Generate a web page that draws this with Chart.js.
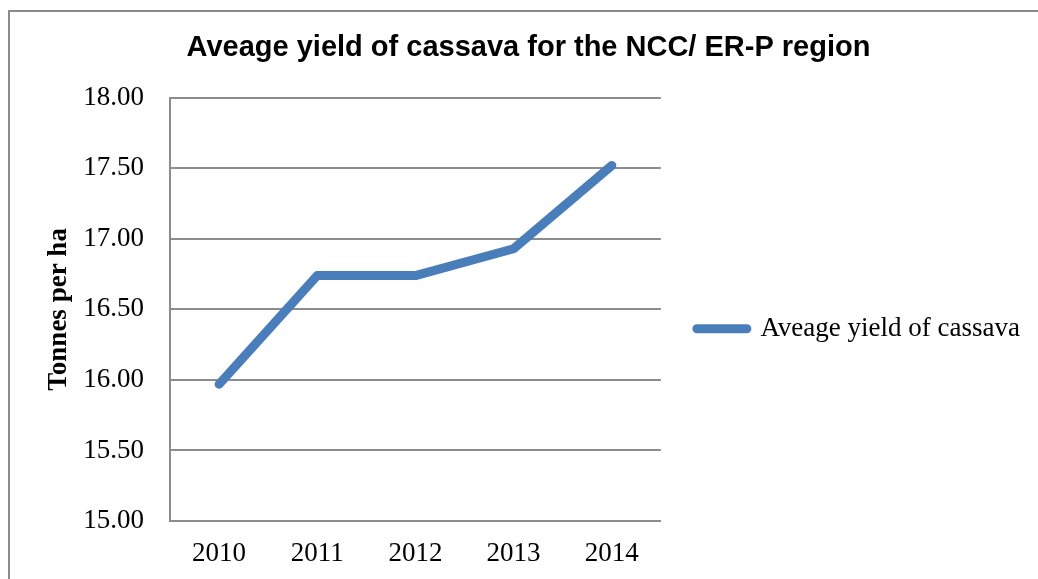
<!DOCTYPE html>
<html>
<head>
<meta charset="utf-8">
<script src="https://cdn.jsdelivr.net/npm/chart.js@4/dist/chart.umd.min.js"></script>
<style>
html, body { margin: 0; padding: 0; background: #fff; overflow: hidden; }
#frame { position: absolute; left: 8px; top: 10px; width: 1100px; height: 700px; border: 2px solid #8a8a8a; }
#line_chart { position: absolute; left: 0; top: 0; }
</style>
</head>
<body>
<div id="frame"></div>
<canvas id="line_chart" width="1038" height="579"></canvas>
<script>
// values
var years = ["2010", "2011", "2012", "2013", "2014"];
var yieldValues = [15.97, 16.74, 16.74, 16.93, 17.52];
var yTicks = [15.0, 15.5, 16.0, 16.5, 17.0, 17.5, 18.0];

var serif = "'Liberation Serif', 'Times New Roman', serif";
var gridGray = '#8c8c8c';
var lineBlue = '#4a7ebb';

var lineData = {
    labels: years,
    datasets: [
        {
            label: "Aveage yield of cassava",
            data: yieldValues,
            borderColor: lineBlue,
            backgroundColor: lineBlue,
            borderWidth: 9,
            borderCapStyle: 'round',
            borderJoinStyle: 'round',
            pointRadius: 0,
            pointStyle: 'line',
            fill: false,
            tension: 0
        }
    ]
};

var lineOptions = {
    responsive: false,
    animation: false,
    // uneven left/right padding puts the title centre where it is in the picture
    layout: { padding: { left: 27, right: 8, top: 0, bottom: 0 } },
    plugins: {
        title: {
            display: true,
            text: "Aveage yield of cassava for the NCC/ ER-P region",
            color: '#000',
            font: { family: "'Liberation Sans', Arial, sans-serif", size: 29, weight: 'bold' },
            padding: { top: 31, bottom: 32 }
        },
        legend: {
            position: 'right',
            maxWidth: 600,
            // empty title only pushes the entry down to where it sits in the picture
            title: { display: true, text: ' ', font: { size: 12 }, padding: 32 },
            labels: {
                usePointStyle: true,
                pointStyleWidth: 50,
                color: '#000',
                padding: 36,
                font: { family: serif, size: 27 },
                generateLabels: function(chart) {
                    var items = Chart.defaults.plugins.legend.labels.generateLabels(chart);
                    items.forEach(function(it) {
                        it.lineCap = 'round';
                        it.lineWidth = 9;
                        it.strokeStyle = lineBlue;
                    });
                    return items;
                }
            }
        },
        tooltip: { enabled: false }
    },
    scales: {
        x: {
            offset: true,
            grid: { display: false, drawTicks: false },
            border: { display: true, color: gridGray, width: 2 },
            ticks: { color: '#000', padding: 17, font: { family: serif, size: 27 } },
            afterFit: function(scale) { scale.height = 58; }
        },
        y: {
            min: 15,
            max: 18,
            grid: { color: gridGray, lineWidth: 2, drawTicks: false },
            border: { display: true, color: gridGray, width: 2 },
            afterBuildTicks: function(scale) {
                scale.ticks = yTicks.map(function(v) { return { value: v }; });
            },
            ticks: {
                color: '#000',
                padding: 26,
                font: { family: serif, size: 27 },
                callback: function(v) { return Number(v).toFixed(2); }
            },
            title: {
                display: true,
                text: "Tonnes per ha",
                color: '#000',
                font: { family: serif, size: 27, weight: 'bold' },
                padding: { top: 16, bottom: 0 }
            },
            afterFit: function(scale) { scale.width = 143; }
        }
    }
};

var ctx1 = document.getElementById("line_chart");
new Chart(ctx1, { type: 'line', data: lineData, options: lineOptions });
</script>
</body>
</html>
